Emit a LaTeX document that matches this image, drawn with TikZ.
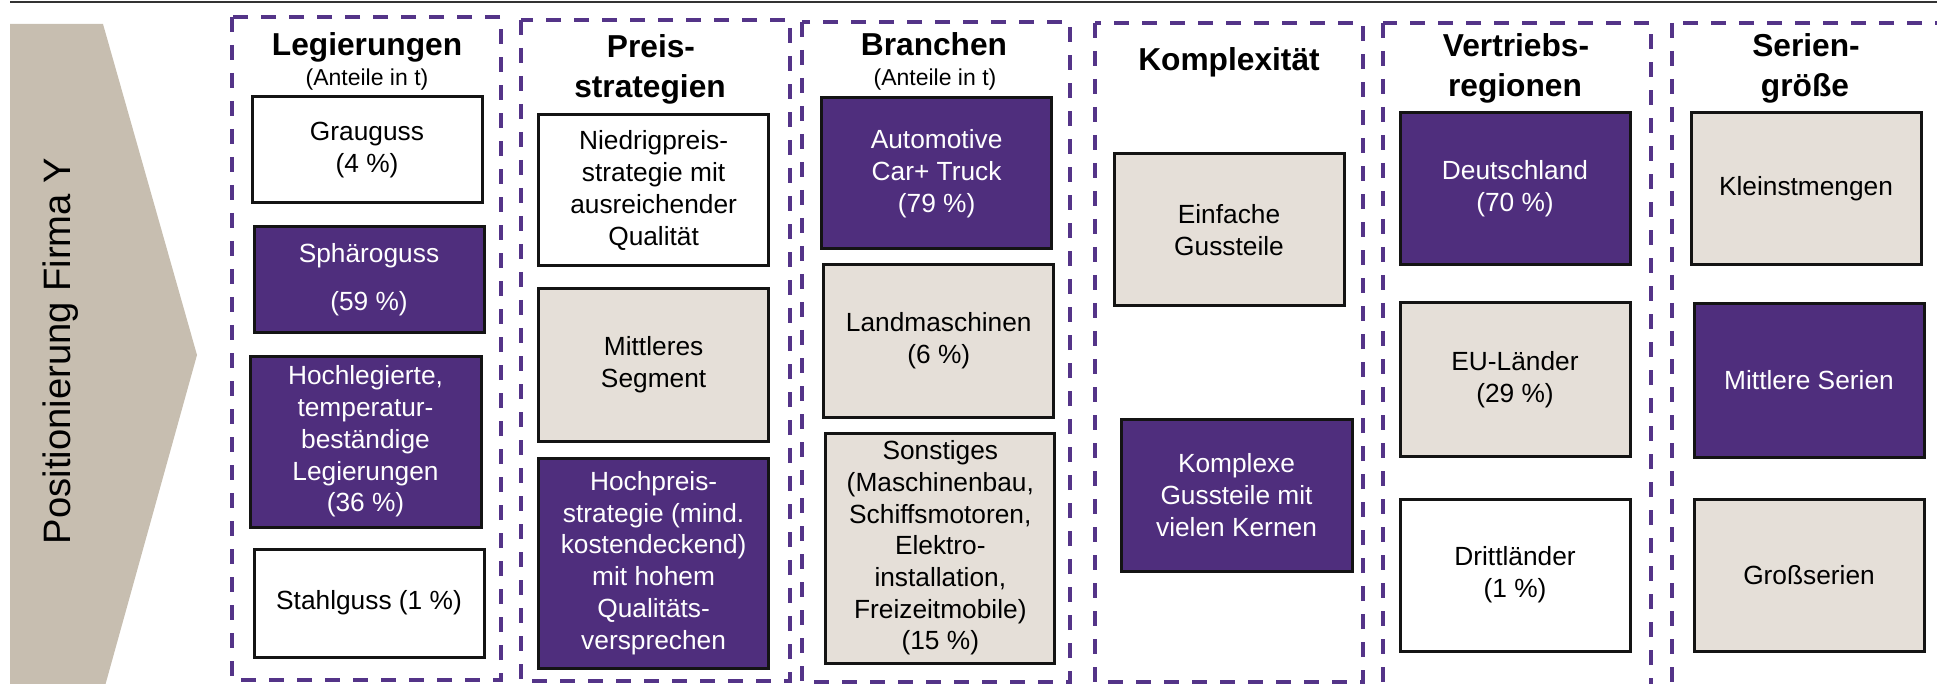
\documentclass[tikz,border=0pt]{standalone}
\usepackage{fontspec}
\setmainfont{Liberation Sans}
\definecolor{purp}{HTML}{4F2E7D}
\definecolor{panelc}{HTML}{543488}
\definecolor{sand}{HTML}{E5DFD8}
\definecolor{arrowc}{HTML}{C7BEB0}
\begin{document}
\begin{tikzpicture}[x=1pt,y=-1pt,
  panel/.style={draw=panelc, line width=4pt, dash pattern=on 15pt off 13pt},
  cell/.style={draw=black!92, line width=3pt, align=center, inner sep=0pt,
    font=\fontsize{26.3}{31.7}\selectfont},
  hi/.style={cell, fill=purp, text=white},
  mid/.style={cell, fill=sand},
  lo/.style={cell, fill=white},
  ttl/.style={anchor=base, inner sep=0pt, font=\fontsize{31.7}{40}\selectfont\bfseries},
  sub/.style={anchor=base, inner sep=0pt, font=\fontsize{23}{28}\selectfont}]
\useasboundingbox (0,0) rectangle (1937,684);

% rule across the top
\draw[line width=2pt, black!80] (10,2) -- (1937,2);

% chevron with the vertical label
\fill[arrowc] (10,24) -- (103,24) -- (197,355) -- (105,686) -- (10,686) -- cycle;
\node[rotate=90, anchor=base, inner sep=0pt, font=\fontsize{38.2}{46}\selectfont]
  (pos) at (70,351) {Positionierung Firma Y};

% dashed category frames
\draw[panel] (232,17) rectangle (501,680);
\draw[panel] (521,20) rectangle (790,681);
\draw[panel] (802,22) rectangle (1070,682);
\draw[panel] (1095,23) rectangle (1363,682);
\draw[panel] (1383,23) rectangle (1651,700);
\draw[panel] (1672,23) rectangle (1960,700);

% headings
\node[ttl] (t1) at (367,56) {Legierungen};
\node[sub] (t1s) at (367,86) {(Anteile in t)};
\node[ttl] (t2a) at (651,58) {Preis-};
\node[ttl] (t2b) at (650,98) {strategien};
\node[ttl] (t3) at (934,56) {Branchen};
\node[sub] (t3s) at (935,86) {(Anteile in t)};
\node[ttl] (t4) at (1229,71) {Komplexität};
\node[ttl] (t5a) at (1516,57) {Vertriebs-};
\node[ttl] (t5b) at (1515,97) {regionen};
\node[ttl] (t6a) at (1806,57) {Serien-};
\node[ttl] (t6b) at (1805,97) {größe};

% Legierungen
\node[lo, minimum width=230pt, minimum height=106pt] (grau) at (367,150) {Grauguss\\(4 \%)};
\node[hi, minimum width=230pt, minimum height=106pt] (sphaero) at (369,280) {Sphäroguss\\[16pt](59 \%)};
\node[hi, minimum width=231pt, minimum height=171pt] (hochleg) at (365.5,441.5)
  {Hochlegierte,\\temperatur-\\beständige\\Legierungen\\(36 \%)};
\node[lo, minimum width=230pt, minimum height=108pt] (stahl) at (369,603) {Stahlguss (1 \%)};

% Preisstrategien
\node[lo, minimum width=230pt, minimum height=151pt] (niedrig) at (653.6,190.5)
  {Niedrigpreis-\\strategie mit\\ausreichender\\Qualität};
\node[mid, minimum width=230pt, minimum height=152pt] (mittel) at (653.6,365) {Mittleres\\Segment};
\node[hi, minimum width=230pt, minimum height=210pt] (hoch) at (653.6,563)
  {Hochpreis-\\strategie (mind.\\kostendeckend)\\mit hohem\\Qualitäts-\\versprechen};

% Branchen
\node[hi, minimum width=230pt, minimum height=151pt] (auto) at (936.6,173.5)
  {Automotive\\Car+ Truck\\(79 \%)};
\node[mid, minimum width=230pt, minimum height=152pt] (land) at (938.8,341) {Landmaschinen\\(6 \%)};
\node[mid, minimum width=229pt, minimum height=230pt] (sonst) at (940.3,548)
  {Sonstiges\\(Maschinenbau,\\Schiffsmotoren,\\Elektro-\\installation,\\Freizeitmobile)\\(15 \%)};

% Komplexität
\node[mid, minimum width=230pt, minimum height=152pt] (einfach) at (1229,230) {Einfache\\Gussteile};
\node[hi, minimum width=231pt, minimum height=152pt] (komplex) at (1236.5,495)
  {Komplexe\\Gussteile mit\\vielen Kernen};

% Vertriebsregionen
\node[hi, minimum width=230pt, minimum height=152pt] (de) at (1515,189) {Deutschland\\(70 \%)};
\node[mid, minimum width=230pt, minimum height=153pt] (eu) at (1515,379.5) {EU-Länder\\(29 \%)};
\node[lo, minimum width=230pt, minimum height=152pt] (dritt) at (1515,575) {Drittländer\\(1 \%)};

% Seriengröße
\node[mid, minimum width=230pt, minimum height=152pt] (klein) at (1806,189) {Kleinstmengen};
\node[hi, minimum width=230pt, minimum height=153pt] (mserie) at (1809,380.5) {Mittlere Serien};
\node[mid, minimum width=230pt, minimum height=152pt] (gross) at (1809,575) {Großserien};
\end{tikzpicture}
\end{document}
